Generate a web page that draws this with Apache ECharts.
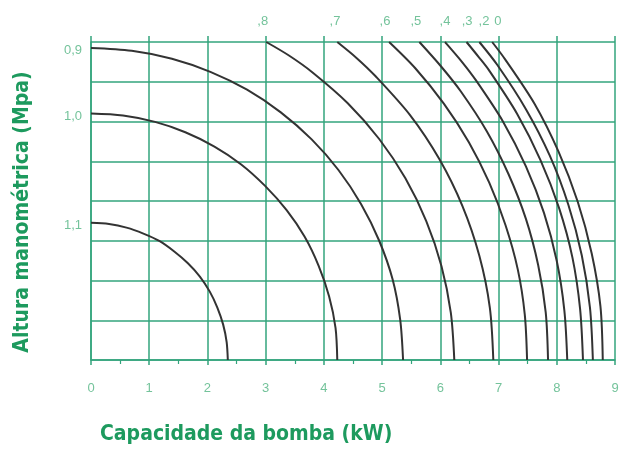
<!DOCTYPE html>
<html>
<head>
<meta charset="utf-8">
<script src="https://cdn.jsdelivr.net/npm/echarts@6/dist/echarts.min.js"></script>
<style>html,body{margin:0;padding:0;background:#fff}#c{width:622px;height:450px}</style>
</head>
<body>
<div id="c"></div>
<script>
// x: pump capacity (kW); y: chart grid units (0..8)
const xTicks = [0,1,2,3,4,5,6,7,8,9];
const yLabelPos = [7.80, 6.14, 3.38];
const yLabelText = ['0,9', '1,0', '1,1'];
const topLabelPos = [2.95, 4.19, 5.05, 5.58, 6.08, 6.46, 6.75, 6.99];
const topLabelText = [',8', ',7', ',6', ',5', ',4', ',3', ',2', '0'];

const curve11 = [[2.35,0],[2.33,0.45],[2.27,0.89],[2.17,1.32],[2.04,1.72],[1.87,2.10],[1.66,2.44],[1.43,2.73],[1.18,2.99],[0.90,3.18],[0.61,3.33],[0.31,3.42],[0,3.45]];
const curve10 = [[4.23,0],[4.20,0.81],[4.09,1.60],[3.91,2.37],[3.67,3.10],[3.36,3.77],[2.99,4.38],[2.58,4.92],[2.12,5.37],[1.62,5.73],[1.10,5.99],[0.55,6.15],[0,6.20]];
const curve09 = [[5.36,0],[5.31,1.02],[5.18,2.03],[4.95,3.00],[4.64,3.92],[4.25,4.78],[3.79,5.55],[3.26,6.23],[2.68,6.80],[2.05,7.25],[1.39,7.58],[0.70,7.78],[0,7.85]];
const curve08 = [[6.24,0],[6.18,1.19],[6.02,2.36],[5.76,3.49],[5.40,4.57],[4.95,5.56],[4.41,6.46],[3.80,7.24],[3.40,7.66],[3.01,8.00]];
const curve07 = [[6.91,0],[6.85,1.32],[6.67,2.62],[6.38,3.87],[5.98,5.06],[5.48,6.16],[4.88,7.15],[4.56,7.60],[4.23,8.00]];
const curve06 = [[7.49,0],[7.45,1.15],[7.33,2.28],[7.12,3.39],[6.84,4.46],[6.49,5.48],[6.06,6.45],[5.57,7.34],[5.12,8.00]];
const curve05 = [[7.85,0],[7.81,1.20],[7.68,2.39],[7.47,3.55],[7.17,4.68],[6.80,5.75],[6.35,6.76],[6.01,7.39],[5.64,8.00]];
const curve04 = [[8.18,0],[8.13,1.25],[8.00,2.49],[7.78,3.70],[7.47,4.87],[7.08,5.99],[6.61,7.04],[6.35,7.54],[6.08,8.00]];
const curve03 = [[8.45,0],[8.40,1.29],[8.27,2.57],[8.04,3.82],[7.72,5.03],[7.32,6.19],[6.84,7.28],[6.66,7.62],[6.45,8.00]];
const curve02 = [[8.62,0],[8.57,1.32],[8.43,2.63],[8.20,3.90],[7.88,5.14],[7.47,6.31],[6.98,7.42],[6.67,8.00]];
const curve00 = [[8.79,0],[8.75,1.35],[8.60,2.68],[8.36,3.98],[8.03,5.24],[7.62,6.44],[7.11,7.57],[6.89,8.00]];

const curveNames = ['1,1','1,0','0,9','0,8','0,7','0,6','0,5','0,4','0,3','0,2','0'];
const curves = [curve11,curve10,curve09,curve08,curve07,curve06,curve05,curve04,curve03,curve02,curve00];

const gridColor = '#33a47c';
const labelColor = '#74c39b';
const titleColor = '#1d9a5e';
const titleFont = "'Liberation Sans Narrow', 'DejaVu Sans Condensed', sans-serif";

const chart = echarts.init(document.getElementById('c'), null, {renderer: 'canvas'});
chart.setOption({
  animation: false,
  backgroundColor: '#fff',
  grid: {left: 91, right: 7, top: 42, bottom: 90, containLabel: false},
  title: {
    text: 'Capacidade da bomba (kW)',
    left: 95, top: 419,
    textStyle: {color: titleColor, fontFamily: titleFont, fontWeight: 'bold', fontSize: 21}
  },
  xAxis: [{
    type: 'value', position: 'bottom', min: 0, max: 9, interval: 1,
    axisLine: {show: true, lineStyle: {color: gridColor, width: 1.5}},
    axisTick: {show: true, length: 5, lineStyle: {color: gridColor, width: 1.5}},
    minorTick: {show: true, splitNumber: 2, length: 4, lineStyle: {color: gridColor, width: 1.2}},
    splitLine: {show: true, lineStyle: {color: gridColor, width: 1.5}},
    axisLabel: {color: labelColor, fontSize: 13, margin: 22, fontFamily: 'Liberation Sans, sans-serif'}
  }, {
    type: 'value', position: 'top', min: 0, max: 9, interval: 1,
    axisLine: {show: false},
    axisTick: {show: true, length: 6, customValues: xTicks, lineStyle: {color: gridColor, width: 1.5}},
    splitLine: {show: false},
    axisLabel: {
      color: labelColor, fontSize: 13, margin: 14, fontFamily: 'Liberation Sans, sans-serif',
      customValues: topLabelPos,
      formatter: function (v) { const i = topLabelPos.indexOf(v); return i >= 0 ? topLabelText[i] : ''; }
    }
  }],
  yAxis: {
    type: 'value', min: 0, max: 8, interval: 1,
    name: 'Altura manométrica (Mpa)', nameLocation: 'middle', nameGap: 58, nameRotate: 90,
    nameTextStyle: {color: titleColor, fontFamily: titleFont, fontWeight: 'bold', fontSize: 21, padding: [0, 22, 0, 0]},
    axisLine: {show: true, lineStyle: {color: gridColor, width: 1.5}},
    axisTick: {show: false},
    splitLine: {show: true, lineStyle: {color: gridColor, width: 1.5}},
    axisLabel: {
      color: labelColor, fontSize: 13, margin: 9, fontFamily: 'Liberation Sans, sans-serif',
      customValues: yLabelPos,
      formatter: function (v) { const i = yLabelPos.indexOf(v); return i >= 0 ? yLabelText[i] : ''; }
    }
  },
  series: curves.map(function (d, i) {
    return {
      name: curveNames[i], type: 'line', data: d, smooth: 0.3, symbol: 'none',
      xAxisIndex: 0, yAxisIndex: 0, clip: true,
      lineStyle: {color: '#333333', width: 2}
    };
  })
});
</script>
</body>
</html>
